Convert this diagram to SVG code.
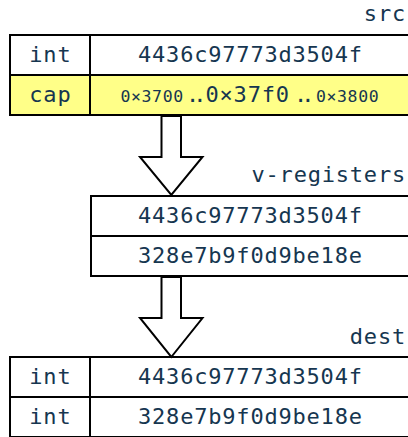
<svg xmlns="http://www.w3.org/2000/svg" width="408" height="437" viewBox="0 0 408 437">
  <style>
    .cell { fill: #ffffff; stroke: #000000; stroke-width: 2; }
    .cap { fill: #ffff88; }
    .t { font-family: "DejaVu Sans Mono", "Liberation Mono", monospace; font-size: 22px; letter-spacing: 0.8px; fill: #163650; }
    .s { font-size: 16.5px; letter-spacing: 0.6px; }
    .dd { letter-spacing: -6px; }
    .lbl { text-anchor: end; }
    .c { text-anchor: middle; }
    .arrow { fill: #ffffff; stroke: #000000; stroke-width: 2; stroke-linejoin: miter; }
  </style>
  <rect width="408" height="437" fill="#ffffff"/>

  <g id="src">
    <text class="t lbl" x="406" y="21">src</text>
    <rect class="cell" x="10" y="35" width="80" height="40"/>
    <rect class="cell" x="90" y="35" width="320" height="40"/>
    <rect class="cell cap" x="10" y="75" width="80" height="40"/>
    <rect class="cell cap" x="90" y="75" width="320" height="40"/>
    <text class="t c" x="50.4" y="62">int</text>
    <text class="t c" x="250.4" y="62">4436c97773d3504f</text>
    <text class="t c" x="50.4" y="102">cap</text>
    <text class="t s" x="120.5" y="102">0×3700</text>
    <text class="t dd" x="186" y="102">..</text>
    <text class="t" x="205.5" y="102">0×37f0</text>
    <text class="t dd" x="294" y="102">..</text>
    <text class="t s" x="316" y="102">0×3800</text>
  </g>

  <g id="v-registers">
    <text class="t lbl" x="406" y="182">v-registers</text>
    <rect class="cell" x="91" y="196" width="320" height="40"/>
    <rect class="cell" x="91" y="236" width="320" height="40"/>
    <text class="t c" x="250.4" y="223">4436c97773d3504f</text>
    <text class="t c" x="250.4" y="263">328e7b9f0d9be18e</text>
  </g>

  <g id="dest">
    <text class="t lbl" x="406" y="344">dest</text>
    <rect class="cell" x="10" y="357" width="80" height="40"/>
    <rect class="cell" x="90" y="357" width="320" height="40"/>
    <rect class="cell" x="10" y="397" width="80" height="40"/>
    <rect class="cell" x="90" y="397" width="320" height="40"/>
    <text class="t c" x="50.4" y="384">int</text>
    <text class="t c" x="250.4" y="384">4436c97773d3504f</text>
    <text class="t c" x="50.4" y="424">int</text>
    <text class="t c" x="250.4" y="424">328e7b9f0d9be18e</text>
  </g>

  <g id="connectors">
    <polygon class="arrow" points="161.5,116 181,116 181,157 202.5,157 171.3,195 140,157 161.5,157"/>
    <polygon class="arrow" points="161.5,277 181,277 181,318 202.5,318 171.3,357 140,318 161.5,318"/>
  </g>
</svg>
